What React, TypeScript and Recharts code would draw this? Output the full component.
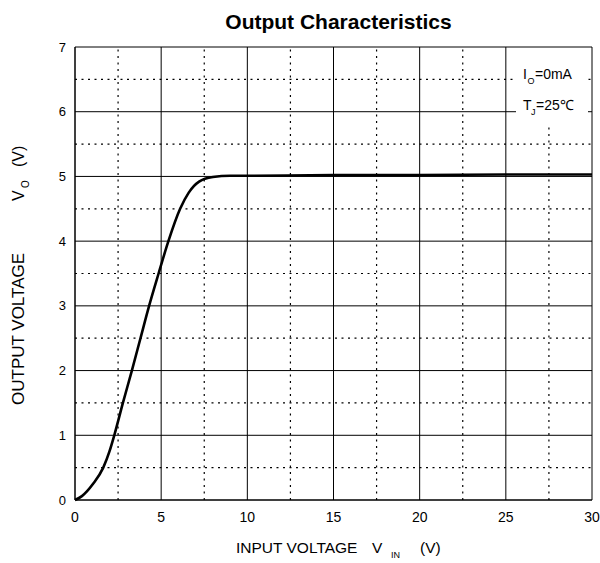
import React from "react";
import { LineChart, Line, XAxis, YAxis, ReferenceLine } from "recharts";

const vin = [0, 0.4, 1.05, 1.64, 2.0, 2.28, 2.78, 3.3, 3.8, 4.3, 4.85, 5.42, 6.1, 6.6, 7.2, 8, 9, 10, 15, 20, 25, 30];
const vout = [0, 0.06, 0.25, 0.5, 0.75, 1.0, 1.5, 2.0, 2.5, 3.0, 3.5, 4.0, 4.5, 4.75, 4.92, 4.99, 5.01, 5.01, 5.02, 5.02, 5.03, 5.03];

const xTicks = [0, 5, 10, 15, 20, 25, 30];
const yTicks = [0, 1, 2, 3, 4, 5, 6, 7];
const xMinor = [2.5, 7.5, 12.5, 17.5, 22.5, 27.5];
const yMinor = [0.5, 1.5, 2.5, 3.5, 4.5, 5.5, 6.5];

const data = vin.map((v, i) => ({ vin: v, vout: vout[i] }));

const FONT = "'Liberation Sans', Arial, Helvetica, sans-serif";

export default function App() {
  return (
    <div style={{ position: "absolute", left: 0, top: 0, width: 600, height: 563, background: "#fff" }}>
      <LineChart width={600} height={563} data={data} margin={{ top: 47, right: 8, left: 35, bottom: 33 }}>
        {yMinor.map((y) => (
          <ReferenceLine key={"ym" + y} y={y} stroke="#000" strokeWidth={1.2} strokeDasharray="2 4.5" />
        ))}
        {xMinor.map((x) => (
          <ReferenceLine key={"xm" + x} x={x} stroke="#000" strokeWidth={1.2} strokeDasharray="2 4.5" />
        ))}
        {yTicks.map((y) => (
          <ReferenceLine key={"y" + y} y={y} stroke="#000" strokeWidth={1} />
        ))}
        {xTicks.map((x) => (
          <ReferenceLine key={"x" + x} x={x} stroke="#000" strokeWidth={1} />
        ))}
        <XAxis
          dataKey="vin"
          type="number"
          domain={[0, 30]}
          ticks={xTicks}
          height={30}
          tickLine={false}
          axisLine={{ stroke: "#000" }}
          tickSize={0}
          tickMargin={12}
          tick={{ fill: "#000", fontSize: 14, fontFamily: FONT }}
        />
        <YAxis
          type="number"
          domain={[0, 7]}
          ticks={yTicks}
          width={40}
          tickLine={false}
          axisLine={{ stroke: "#000" }}
          tickSize={0}
          tickMargin={9}
          tick={{ fill: "#000", fontSize: 13, fontFamily: FONT }}
        />
        <Line
          type="monotone"
          dataKey="vout"
          stroke="#000"
          strokeWidth={2.6}
          dot={false}
          isAnimationActive={false}
        />
      </LineChart>
      <svg
        width={600}
        height={563}
        style={{ position: "absolute", left: 0, top: 0, pointerEvents: "none" }}
        fontFamily={FONT}
      >
        <text x={338.5} y={28.5} textAnchor="middle" fontSize={21} fontWeight="bold" fill="#000">
          Output  Characteristics
        </text>
        <text x={236} y={553} fontSize={15.5} fill="#000">INPUT VOLTAGE</text>
        <text x={372} y={553} fontSize={15.5} fill="#000">V</text>
        <text x={391} y={558} fontSize={9} fill="#000">IN</text>
        <text x={420} y={553} fontSize={15.5} fill="#000">(V)</text>
        <g transform="translate(23.5,405) rotate(-90)">
          <text x={0} y={0} fontSize={17} fill="#000">OUTPUT VOLTAGE</text>
          <text x={204} y={0} fontSize={16} fill="#000">V</text>
          <text x={217} y={5} fontSize={10} fill="#000">O</text>
          <text x={238} y={0} fontSize={16} fill="#000">(V)</text>
        </g>
        <rect x={516} y={48} width={72} height={77} fill="#fff" />
        <text x={523} y={79} fontSize={14} fill="#000">I</text>
        <text x={527.5} y={84} fontSize={9} fill="#000">O</text>
        <text x={535} y={79} fontSize={14} fill="#000">=0mA</text>
        <text x={523} y={110} fontSize={14} fill="#000">T</text>
        <text x={531} y={115} fontSize={9} fill="#000">J</text>
        <text x={536} y={110} fontSize={14} fill="#000">=25℃</text>
      </svg>
    </div>
  );
}
